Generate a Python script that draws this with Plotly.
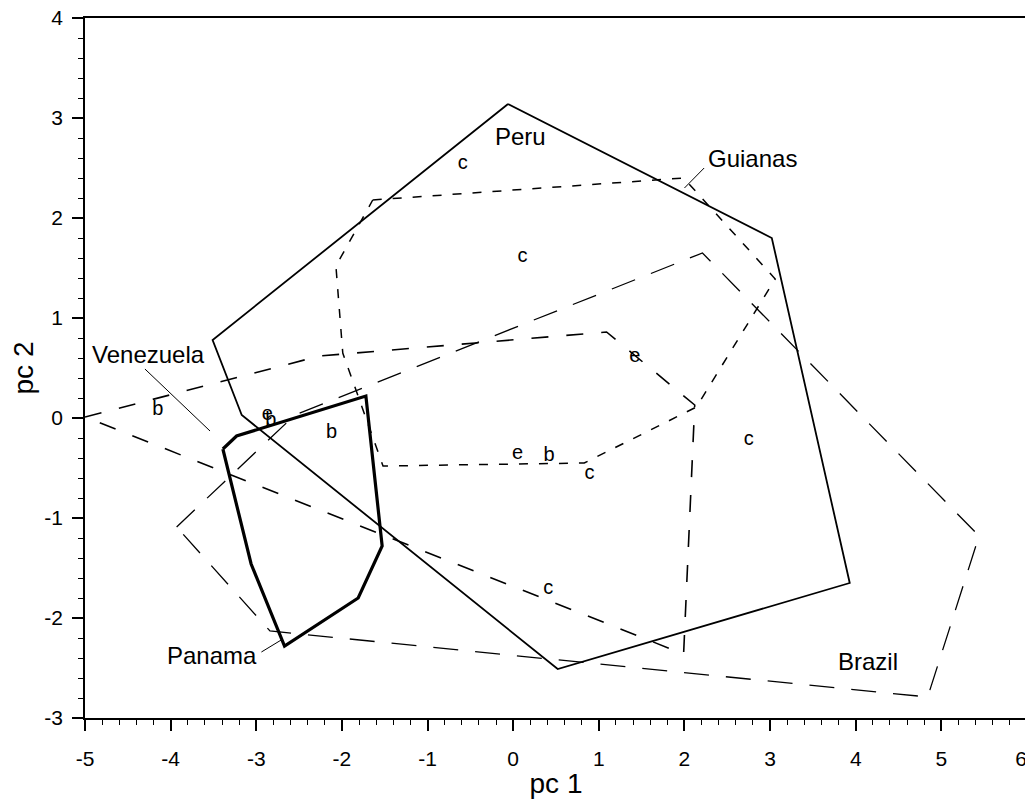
import plotly.graph_objects as go

# ---- data ----
peru_x = [-0.06, 3.02, 3.93, 0.52, -3.17, -3.51]
peru_y = [3.14, 1.80, -1.65, -2.51, 0.03, 0.78]

panama_x = [-3.39, -3.23, -1.72, -1.56, -1.53, -1.81, -2.67, -3.06]
panama_y = [-0.31, -0.18, 0.22, -1.09, -1.28, -1.80, -2.28, -1.46]

guianas_x = [-1.64, 1.99, 3.06, 2.14, 0.83, -1.52, -1.99, -2.07]
guianas_y = [2.18, 2.40, 1.39, 0.11, -0.45, -0.48, 0.65, 1.52]

venezuela_x = [-5.0, -2.26, 1.09, 2.12, 1.99]
venezuela_y = [0.01, 0.62, 0.86, 0.13, -2.36]

brazil_x = [-3.93, -2.55, 2.21, 5.44, 4.84, -2.84]
brazil_y = [-1.09, 0.03, 1.65, -1.18, -2.79, -2.13]

letter_x = [-0.59, 0.11, 1.42, 2.75, -4.15, -2.12, 0.05, 0.42, 0.89, 0.41, -2.87, -2.83]
letter_y = [2.54, 1.61, 0.61, -0.22, 0.08, -0.15, -0.36, -0.38, -0.56, -1.71, 0.03, -0.03]
letter_txt = ["c", "c", "e", "c", "b", "b", "e", "b", "c", "c", "e", "b"]

x_ticks = [-5, -4, -3, -2, -1, 0, 1, 2, 3, 4, 5, 6]
y_ticks = [-3, -2, -1, 0, 1, 2, 3, 4]

FONT = "Liberation Sans, Arial, Helvetica, sans-serif"


def closed(v):
    return list(v) + [v[0]]


fig = go.Figure()

fig.add_trace(go.Scatter(x=closed(brazil_x), y=closed(brazil_y), mode="lines",
                         line=dict(color="black", width=1.3, dash="25px,17px"),
                         name="Brazil", hoverinfo="skip"))
fig.add_trace(go.Scatter(x=closed(venezuela_x), y=closed(venezuela_y), mode="lines",
                         line=dict(color="black", width=1.6, dash="17px,18px"),
                         name="Venezuela", hoverinfo="skip"))
fig.add_trace(go.Scatter(x=closed(guianas_x), y=closed(guianas_y), mode="lines",
                         line=dict(color="black", width=1.5, dash="9px,11px"),
                         name="Guianas", hoverinfo="skip"))
fig.add_trace(go.Scatter(x=closed(peru_x), y=closed(peru_y), mode="lines",
                         line=dict(color="black", width=1.8),
                         name="Peru", hoverinfo="skip"))
fig.add_trace(go.Scatter(x=closed(panama_x), y=closed(panama_y), mode="lines",
                         line=dict(color="black", width=3.2),
                         name="Panama", hoverinfo="skip"))
fig.add_trace(go.Scatter(x=letter_x, y=letter_y, mode="text", text=letter_txt,
                         textposition="middle center",
                         textfont=dict(family=FONT, size=20, color="black"),
                         hoverinfo="skip"))

# region labels
labels = [("Peru", 0.09, 2.82), ("Guianas", 2.80, 2.60), ("Venezuela", -4.26, 0.64),
          ("Panama", -3.52, -2.37), ("Brazil", 4.14, -2.43)]
for t, x, y in labels:
    fig.add_annotation(x=x, y=y, text=t, showarrow=False,
                       font=dict(family=FONT, size=24, color="black"),
                       xanchor="center", yanchor="middle")

# leader lines
for x0, y0, x1, y1 in [(-4.30, 0.49, -3.54, -0.13),
                       (2.23, 2.50, 2.00, 2.30),
                       (-2.94, -2.34, -2.69, -2.21)]:
    fig.add_shape(type="line", x0=x0, y0=y0, x1=x1, y1=y1, xref="x", yref="y",
                  line=dict(color="black", width=1))

axis_common = dict(showline=True, linecolor="black", linewidth=1.7, mirror=True,
                   ticks="outside", ticklen=11, tickwidth=1.5, tickcolor="black",
                   showgrid=False, zeroline=False, automargin=False,
                   ticklabeloverflow="allow",
                   minor=dict(ticks="outside", ticklen=5, tickwidth=1, tickcolor="black", dtick=0.2))

x_ticktext = [str(v) for v in x_ticks]
x_ticktext[-1] = x_ticktext[-1] + "\u00a0\u00a0"  # keep the last label inside the page

fig.update_xaxes(range=[-5, 6], tickvals=x_ticks, ticktext=x_ticktext,
                 tickfont=dict(family=FONT, size=21, color="black"),
                 ticklabelstandoff=10,
                 title=dict(text="pc 1", font=dict(family=FONT, size=28, color="black"), standoff=4),
                 **axis_common)
fig.update_yaxes(range=[-3, 4], tickvals=y_ticks, ticktext=[str(v) for v in y_ticks],
                 tickfont=dict(family=FONT, size=21, color="black"),
                 ticklabelstandoff=5,
                 title=dict(text="pc 2", font=dict(family=FONT, size=28, color="black"), standoff=6),
                 **axis_common)

# the page adds an 8px body margin, so the figure is sized to fit inside the window
fig.update_layout(width=1025, height=793, showlegend=False,
                  margin=dict(l=77, r=6, t=10, b=83),
                  plot_bgcolor="white", paper_bgcolor="white")

fig.write_html("out.html")
